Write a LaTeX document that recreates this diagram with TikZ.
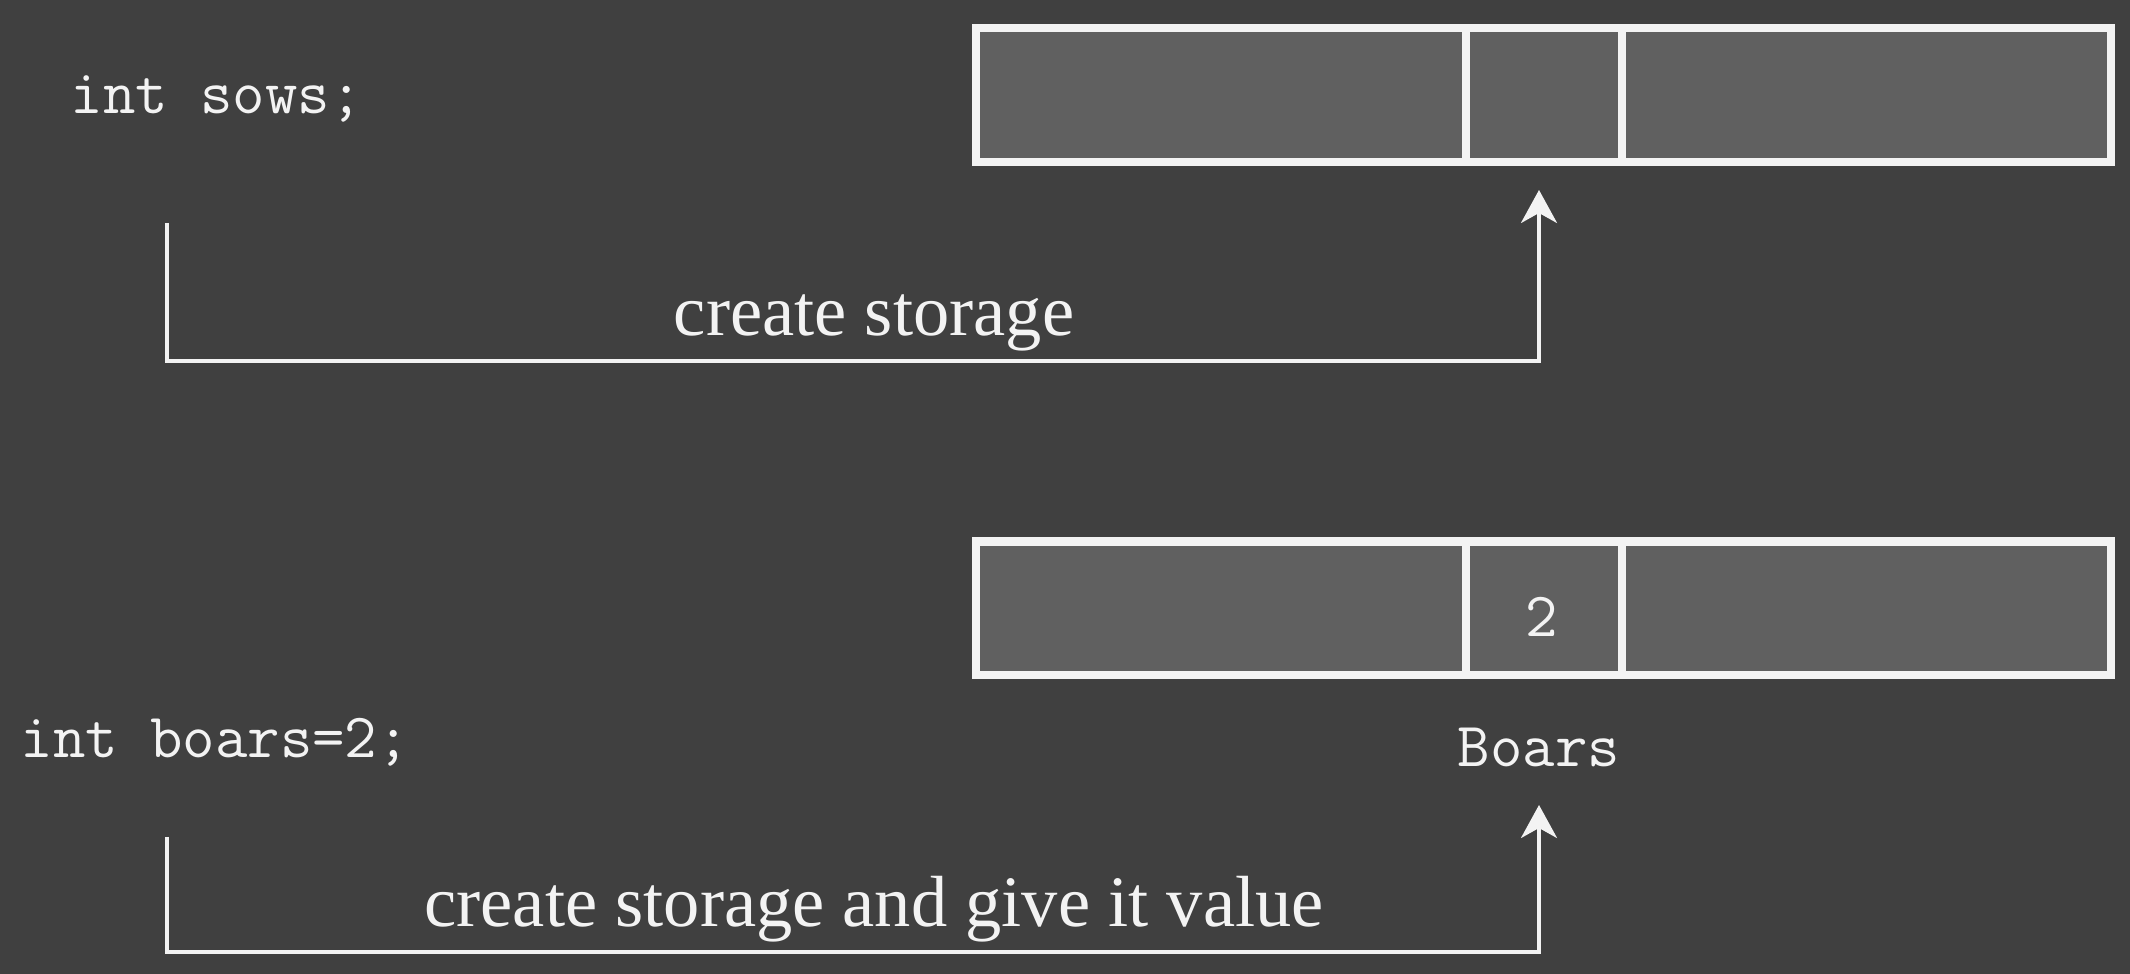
\documentclass[tikz,border=0pt]{standalone}
\usepackage{fontspec}
\setmainfont{Liberation Serif}
\usetikzlibrary{positioning,arrows.meta}
\definecolor{board}{HTML}{404040}
\definecolor{cellgray}{HTML}{606060}
\definecolor{chalk}{HTML}{F3F3F3}
\tikzset{
  cell/.style={draw=chalk, fill=cellgray, line width=0.08cm, outer sep=0pt,
    inner sep=0pt, minimum height=1.337cm},
  widecell/.style={cell, minimum width=4.889cm},
  thincell/.style={cell, minimum width=1.565cm},
  code/.style={text=chalk, inner sep=0pt, font=\ttfamily\fontsize{17.9}{20}\selectfont},
  note/.style={text=chalk, inner sep=0pt, font=\fontsize{20.6}{24}\selectfont},
  link/.style={draw=chalk, line width=0.035cm,
    -{Stealth[length=0.33cm, width=0.36cm, inset=0.1cm]}}
}

\begin{document}
\begin{tikzpicture}[x=0.01cm, y=-0.01cm]

             \fill[board] (0,0) rectangle (2130,974);
             \useasboundingbox (0,0) rectangle (2130,974);

             \node (sowsCode) [code, anchor=base west] at (70,114) {int sows;};
             \node (boarsCode) [code, anchor=base west] at (20,758) {int boars=2;};

             \node (sowsA) [widecell] at (1221,95.2) {};
             \node (sowsB) [thincell, right=0pt of sowsA] {};
             \node (sowsC) [widecell, right=0pt of sowsB] {};

             \node (boarsA) [widecell] at (1221,608.4) {};
             \node (boarsB) [thincell, right=0pt of boarsA] {};
             \node (boarsC) [widecell, right=0pt of boarsB] {};

             \node (boarsVal) [code, anchor=base] at (1542,637) {2};
             \node (boarsName) [code, anchor=base] at (1539,767) {Boars};

             \coordinate (sowsFrom) at (167,223);
             \coordinate (sowsTurn) at (1539,361);
             \coordinate (sowsTo) at (1539,190);

             \coordinate (boarsFrom) at (167,837);
             \coordinate (boarsTurn) at (1539,952);
             \coordinate (boarsTo) at (1539,805);

             \draw [link] (sowsFrom) |- (sowsTurn) -- (sowsTo);
             \draw [link] (boarsFrom) |- (boarsTurn) -- (boarsTo);

             \node (sowsNote) [note, anchor=base] at (874,336) {create storage};
             \node (boarsNote) [note, anchor=base] at (874,927) {create storage and give it value};

          \end{tikzpicture}
\end{document}
